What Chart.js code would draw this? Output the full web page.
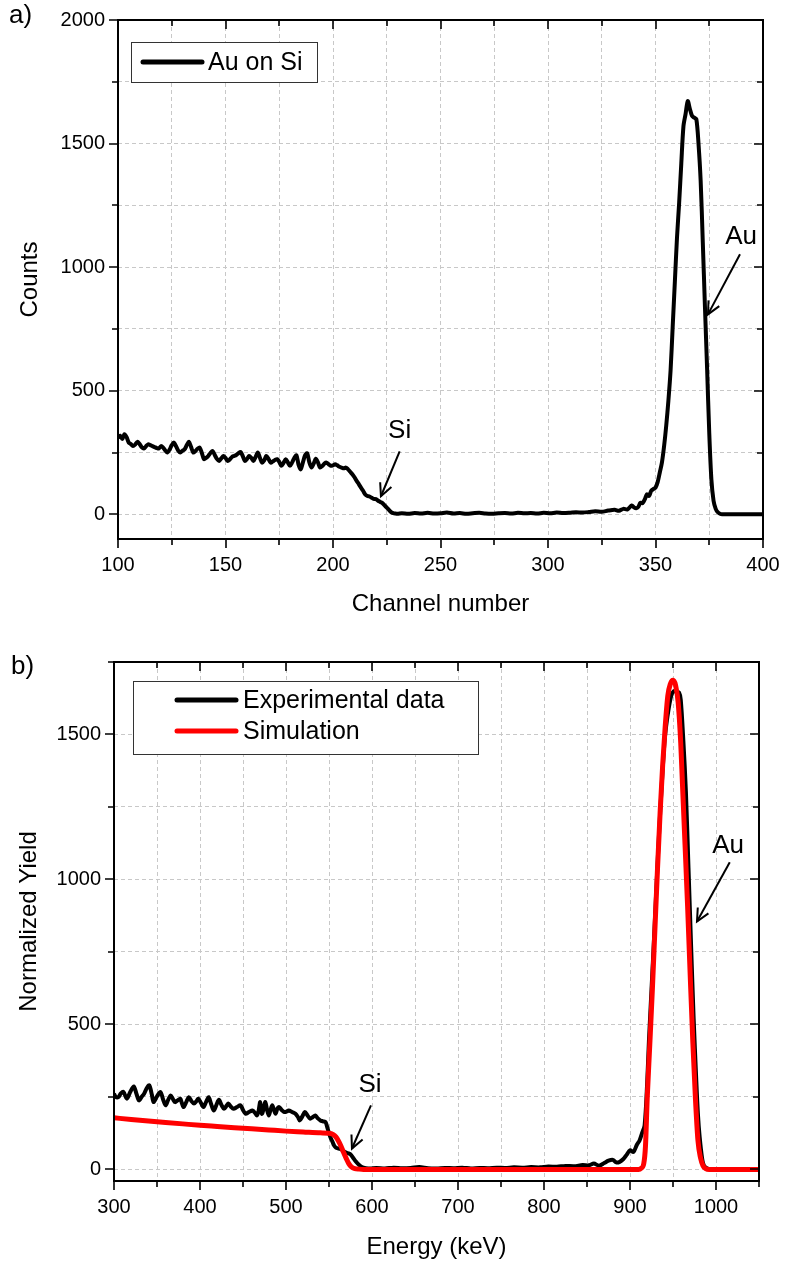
<!DOCTYPE html>
<html>
<head>
<meta charset="utf-8">
<script src="https://cdn.jsdelivr.net/npm/chart.js@4.4.1/dist/chart.umd.min.js"></script>
<style>
  body { margin: 0; background: #fff; }
  #wrap { position: relative; width: 785px; height: 1264px; }
  canvas { position: absolute; left: 0; }
  #topChart { top: 0; width: 785px; height: 625px; }
  #bottomChart { top: 625px; width: 785px; height: 639px; }
</style>
</head>
<body>
<div id="wrap">
  <canvas id="topChart" width="785" height="625"></canvas>
  <canvas id="bottomChart" width="785" height="639"></canvas>
</div>
<script>
// a) raw spectrum, Au on Si
const channels = [
  100,101,102,103,104,105,106,107,108,109,110,111,112,113,114,115,116,117,118,119,
  120,121,122,123,124,125,126,127,128,129,130,131,132,133,134,135,136,137,138,139,
  140,141,142,143,144,145,146,147,148,149,150,151,152,153,154,155,156,157,158,159,
  160,161,162,163,164,165,166,167,168,169,170,171,172,173,174,175,176,177,178,179,
  180,181,182,183,184,185,186,187,188,189,190,191,192,193,194,195,196,197,198,199,
  200,201,202,203,204,205,206,207,208,209,210,211,212,213,214,215,216,217,218,219,
  220,221,222,223,224,225,226,227,228,229,230,
  232,235,238,241,244,247,250,253,256,259,262,265,268,271,274,277,280,283,286,289,
  292,295,298,301,304,307,310,313,316,319,322,325,328,331,333,335,337,339,340,341,
  342,343,344,345,346,347,348,349,350,351,352,353,354,355,356,357,358,359,360,361,
  362,363,364,365,366,367,368,369,370,371,372,373,374,375,376,377,378,379,380,381,
  385,390,395,400
];
const counts = [
  310,318,305,324,312,290,284,276,282,293,285,272,266,275,283,280,276,272,268,266,
  276,270,258,250,262,280,290,275,258,250,257,263,280,293,272,250,256,265,270,248,
  223,228,236,248,256,240,224,216,226,236,228,216,222,232,236,240,247,252,236,216,
  224,236,228,216,232,250,229,209,218,236,224,209,214,220,223,212,196,208,223,210,
  196,210,228,239,200,182,210,238,247,210,189,205,225,210,189,195,205,209,202,196,
  198,202,198,192,189,186,189,182,172,162,150,135,122,108,95,80,74,72,67,62,
  61,55,50,45,36,27,18,9,5,3,2,
  4,2,5,3,6,3,4,7,3,5,2,4,6,3,2,4,5,3,6,4,
  5,3,6,4,7,5,6,8,7,9,12,10,15,18,14,22,20,36,28,24,
  30,47,45,60,81,74,95,102,108,130,169,210,276,360,460,580,760,940,1120,1260,
  1420,1570,1620,1672,1640,1612,1605,1599,1500,1350,1100,840,590,330,140,55,22,8,2,0,
  0,0,0,0
];
const channelTicks = [100,125,150,175,200,225,250,275,300,325,350,375,400];
const countTicks = [0,250,500,750,1000,1250,1500,1750,2000];

// b) normalized yield vs energy
const energyExp = [
  300,302,305,308,311,315,319,323,326,329,332,335,338,341,344,346,350,354,357,360,
  363,366,369,371,374,377,379,381,384,387,390,393,396,398,401,404,407,410,413,416,
  419,422,425,428,431,433,436,439,443,447,450,453,457,461,464,466,468,470,472,474,
  476,478,480,482,484,486,488,490,492,495,498,501,503,507,511,514,516,519,522,525,
  528,531,534,537,540,543,546,548,550,552,554,556,558,561,564,567,570,573,575,578,
  581,584,587,590,593,598,605,615,625,635,645,655,665,675,685,695,705,715,725,735,
  745,755,765,775,785,795,805,815,825,835,845,852,858,864,870,875,880,884,888,892,
  896,900,904,908,911,914,917,920,922,925,928,931,934,937,940,942,945,948,951,954,
  957,959,962,965,968,971,974,977,979,981,984,986,990,995,1000,1050
];
const yieldExp = [
  261,250,249,262,267,244,268,286,262,238,250,261,280,290,258,232,252,267,242,221,
  240,255,240,232,238,244,228,215,232,249,236,227,236,244,230,215,232,249,225,203,
  222,240,222,209,220,227,216,209,215,221,205,192,198,203,195,186,200,232,192,210,
  232,205,186,205,221,205,192,210,215,205,198,200,203,198,192,180,169,183,198,186,
  175,180,186,176,169,166,163,145,125,108,96,82,75,72,70,63,58,55,52,40,
  28,18,10,6,4,3,5,3,6,4,5,8,4,3,5,4,6,3,5,4,
  6,5,7,6,8,7,10,9,12,11,15,14,20,13,22,30,33,24,26,35,
  50,66,60,85,99,125,152,300,443,620,800,990,1170,1330,1470,1528,1590,1634,1650,1647,
  1645,1620,1480,1303,1040,774,520,311,190,112,35,13,3,0,0,0
];
const energySim = [
  300,320,340,360,380,400,420,440,460,480,500,520,540,550,555,558,561,564,567,570,
  573,576,580,585,590,700,800,900,910,913,916,918,920,923,926,929,932,935,938,941,
  944,947,950,953,956,959,961,964,967,970,973,976,979,982,985,988,992,1050
];
const yieldSim = [
  178,172,167,162,157,152,148,144,140,136,132,129,126,125,120,112,98,80,58,38,
  20,9,3,1,0,0,0,0,0,4,20,80,245,430,620,830,1038,1230,1395,1530,
  1634,1675,1687,1670,1610,1470,1329,1120,906,670,443,250,100,40,12,3,0,0
];
const energyTicks = [300,350,400,450,500,550,600,650,700,750,800,850,900,950,1000,1050];
const yieldTicks = [0,250,500,750,1000,1250,1500,1750];

const FONT = '"Liberation Sans", Arial, sans-serif';
Chart.defaults.font.family = FONT;
Chart.defaults.color = '#000';

function pts(xs, ys) {
  return xs.map((x, i) => ({ x: x, y: ys[i] }));
}

function seg(ctx, x1, y1, x2, y2) {
  ctx.beginPath();
  ctx.moveTo(x1, y1);
  ctx.lineTo(x2, y2);
  ctx.stroke();
}

function arrow(ctx, x1, y1, x2, y2) {
  seg(ctx, x1, y1, x2, y2);
  const ang = Math.atan2(y2 - y1, x2 - x1), h = 14, w = 0.45;
  ctx.beginPath();
  ctx.moveTo(x2 - h * Math.cos(ang - w), y2 - h * Math.sin(ang - w));
  ctx.lineTo(x2, y2);
  ctx.lineTo(x2 - h * Math.cos(ang + w), y2 - h * Math.sin(ang + w));
  ctx.stroke();
}

// frame, mirrored ticks, legend box, arrows and panel label
const decor = {
  id: 'decor',
  afterDatasetsDraw(chart, args, o) {
    const { ctx, chartArea: a } = chart;
    const xs = chart.scales.x, ys = chart.scales.y;
    ctx.save();
    ctx.strokeStyle = '#000';
    ctx.lineWidth = 2;
    ctx.strokeRect(a.left, a.top, a.right - a.left, a.bottom - a.top);

    ctx.lineWidth = 1.6;
    ctx.beginPath();
    xs.ticks.forEach(t => {
      const len = t.value % o.xMajor ? 6 : 9;
      const p = Math.round(xs.getPixelForValue(t.value));
      ctx.moveTo(p, a.bottom); ctx.lineTo(p, a.bottom + len);
      ctx.moveTo(p, a.top); ctx.lineTo(p, a.top + len);
    });
    ys.ticks.forEach(t => {
      const len = t.value % o.yMajor ? 6 : 9;
      const p = Math.round(ys.getPixelForValue(t.value));
      ctx.moveTo(a.left, p); ctx.lineTo(a.left - len, p);
      ctx.moveTo(a.right, p); ctx.lineTo(a.right - len, p);
    });
    ctx.stroke();

    // legend
    const L = o.legend;
    const lx = a.left + L.dx, ly = a.top + L.dy;
    ctx.fillStyle = '#fff';
    ctx.fillRect(lx, ly, L.w, L.h);
    ctx.lineWidth = 1;
    ctx.strokeStyle = '#333';
    ctx.strokeRect(lx + 0.5, ly + 0.5, L.w, L.h);
    ctx.font = L.size + 'px ' + FONT;
    ctx.textAlign = 'left';
    ctx.textBaseline = 'middle';
    chart.data.datasets.forEach((ds, i) => {
      const cy = ly + L.first + i * L.row;
      ctx.strokeStyle = ds.borderColor;
      ctx.lineWidth = 5;
      ctx.lineCap = 'round';
      seg(ctx, lx + L.x0, cy, lx + L.x1, cy);
      ctx.fillStyle = '#000';
      ctx.fillText(ds.label, lx + L.tx, cy + 1);
    });

    // annotations
    ctx.lineCap = 'butt';
    ctx.strokeStyle = '#000';
    ctx.fillStyle = '#000';
    ctx.font = o.noteSize + 'px ' + FONT;
    ctx.textAlign = 'center';
    o.notes.forEach(n => {
      ctx.fillText(n.text, xs.getPixelForValue(n.at[0]), ys.getPixelForValue(n.at[1]));
      ctx.lineWidth = 2;
      arrow(ctx,
        xs.getPixelForValue(n.from[0]), ys.getPixelForValue(n.from[1]),
        xs.getPixelForValue(n.to[0]), ys.getPixelForValue(n.to[1]));
    });

    ctx.textAlign = 'left';
    ctx.font = o.panelSize + 'px ' + FONT;
    ctx.fillText(o.panel, o.panelX, o.panelY);
    ctx.restore();
  }
};

function axes(cfg) {
  return {
    x: {
      type: 'linear',
      min: cfg.xMin, max: cfg.xMax,
      border: { display: false, dash: [4, 3] },
      grid: { color: '#c8c8c8', lineWidth: 1, drawTicks: false },
      afterBuildTicks: s => { s.ticks = cfg.xTicks.map(v => ({ value: v })); },
      ticks: {
        padding: cfg.xPad, maxRotation: 0, autoSkip: false,
        font: { size: cfg.tickSize },
        callback: v => v % cfg.xLabel === 0 ? v : ''
      },
      title: { display: true, text: cfg.xTitle, font: { size: cfg.titleSize }, padding: { top: 0, bottom: cfg.xTitlePad } },
      afterFit: s => { s.height = cfg.xHeight; s.paddingLeft = 0; s.paddingRight = 0; }
    },
    y: {
      min: cfg.yMin, max: cfg.yMax,
      border: { display: false, dash: [4, 3] },
      grid: { color: '#c8c8c8', lineWidth: 1, drawTicks: false },
      afterBuildTicks: s => { s.ticks = cfg.yTicks.map(v => ({ value: v })); },
      ticks: {
        padding: 13, autoSkip: false,
        font: { size: cfg.tickSize },
        callback: v => v % 500 === 0 ? v : ''
      },
      title: { display: true, text: cfg.yTitle, font: { size: cfg.titleSize }, padding: { top: cfg.yTitlePad, bottom: 0 } },
      afterFit: s => { s.width = cfg.yWidth; s.paddingTop = 0; s.paddingBottom = 0; }
    }
  };
}

// Gráfico a)
new Chart(document.getElementById('topChart'), {
  type: 'line',
  data: {
    datasets: [{
      label: 'Au on Si',
      data: pts(channels, counts),
      borderColor: '#000',
      borderWidth: 4,
      pointRadius: 0,
      tension: 0.3,
      fill: false
    }]
  },
  options: {
    responsive: false,
    animation: false,
    layout: { padding: { top: 20, right: 22, bottom: 0, left: 0 } },
    scales: axes({
      xMin: 100, xMax: 400, xTicks: channelTicks, xLabel: 50, xPad: 14,
      xTitle: 'Channel number', xTitlePad: 6, xHeight: 86,
      yMin: -100, yMax: 2000, yTicks: countTicks, yTitle: 'Counts', yTitlePad: 16, yWidth: 118,
      tickSize: 20, titleSize: 24
    }),
    plugins: {
      legend: { display: false },
      tooltip: { enabled: false },
      decor: {
        xMajor: 50, yMajor: 500,
        legend: { dx: 13, dy: 22, w: 186, h: 40, first: 20, row: 31, x0: 12, x1: 71, tx: 77, size: 25 },
        noteSize: 26,
        notes: [
          { text: 'Si', at: [231, 336], from: [231, 255], to: [222.3, 73] },
          { text: 'Au', at: [389.8, 1121], from: [389.3, 1052], to: [374.4, 809] }
        ],
        panel: 'a)', panelSize: 26, panelX: 9, panelY: 16
      }
    }
  },
  plugins: [decor]
});

// Gráfico b)
new Chart(document.getElementById('bottomChart'), {
  type: 'line',
  data: {
    datasets: [{
      label: 'Experimental data',
      data: pts(energyExp, yieldExp),
      borderColor: '#000',
      borderWidth: 4,
      pointRadius: 0,
      tension: 0.3,
      order: 1,
      fill: false
    }, {
      label: 'Simulation',
      data: pts(energySim, yieldSim),
      borderColor: '#ff0000',
      borderWidth: 5,
      pointRadius: 0,
      cubicInterpolationMode: 'monotone',
      order: 0,
      fill: false
    }]
  },
  options: {
    responsive: false,
    animation: false,
    layout: { padding: { top: 37, right: 26, bottom: 0, left: 0 } },
    scales: axes({
      xMin: 300, xMax: 1050, xTicks: energyTicks, xLabel: 100, xPad: 14,
      xTitle: 'Energy (keV)', xTitlePad: 2, xHeight: 83,
      yMin: -40, yMax: 1750, yTicks: yieldTicks, yTitle: 'Normalized Yield', yTitlePad: 15, yWidth: 114,
      tickSize: 20, titleSize: 24
    }),
    plugins: {
      legend: { display: false },
      tooltip: { enabled: false },
      decor: {
        xMajor: 100, yMajor: 500,
        legend: { dx: 19, dy: 19, w: 345, h: 73, first: 19, row: 31, x0: 44, x1: 103, tx: 110, size: 25 },
        noteSize: 26,
        notes: [
          { text: 'Si', at: [597.7, 290], from: [598.8, 221], to: [576.7, 72] },
          { text: 'Au', at: [1014, 1117], from: [1016, 1059], to: [977.9, 855] }
        ],
        panel: 'b)', panelSize: 26, panelX: 11, panelY: 42
      }
    }
  },
  plugins: [decor]
});
</script>
</body>
</html>
